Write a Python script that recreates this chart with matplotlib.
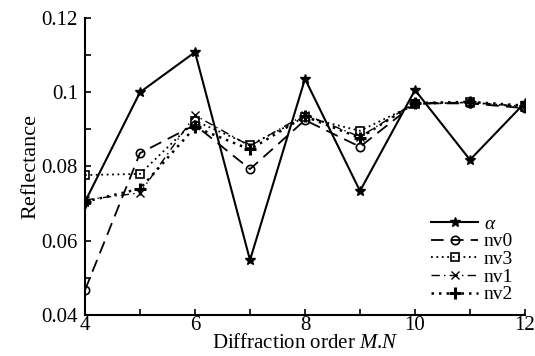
import numpy as np
import matplotlib.pyplot as plt
from matplotlib.ticker import MultipleLocator

plt.rcParams['font.family'] = ['Liberation Serif', 'DejaVu Serif']
plt.rcParams['mathtext.fontset'] = 'custom'
plt.rcParams['mathtext.it'] = 'Liberation Serif:italic'
plt.rcParams['mathtext.rm'] = 'Liberation Serif'

order = [4, 5, 6, 7, 8, 9, 10, 11, 12]
alpha = [0.0705, 0.1000, 0.1108, 0.0548, 0.1036, 0.0734, 0.1006, 0.0818, 0.0972]
nv0 = [0.0467, 0.0836, 0.0912, 0.0793, 0.0925, 0.0853, 0.0970, 0.0970, 0.0957]
nv3 = [0.0777, 0.0780, 0.0923, 0.0858, 0.0933, 0.0896, 0.0968, 0.0973, 0.0960]
nv1 = [0.0710, 0.0729, 0.0938, 0.0855, 0.0940, 0.0880, 0.0972, 0.0972, 0.0962]
nv2 = [0.0705, 0.0740, 0.0906, 0.0846, 0.0935, 0.0877, 0.0971, 0.0974, 0.0964]

fig = plt.figure(figsize=(5.35, 3.56), dpi=100)
ax = fig.add_axes([85/535, 1 - 315/356, 440/535, 297/356])

ax.plot(order, alpha, '-', color='black', lw=1.5, marker='*', ms=7, label=r'$\alpha$')
ax.plot(order, nv0, color='black', lw=1.3, ls=(0, (7, 4)), marker='o', ms=6,
        mfc='none', mew=1.2, label='nv0')
ax.plot(order, nv3, color='black', lw=1.3, ls=(0, (1, 2)), marker='s', ms=6,
        mfc='none', mew=1.2, label='nv3')
ax.plot(order, nv1, color='black', lw=1.0, ls=(0, (6, 3, 1, 3)), marker='x', ms=6,
        mew=1.0, label='nv1')
ax.plot(order, nv2, color='black', lw=1.8, ls=(0, (1, 2)), marker='+', ms=8,
        mew=2.2, label='nv2')

ax.set_xlim(4, 12)
ax.set_ylim(0.04, 0.12)
ax.xaxis.set_major_locator(MultipleLocator(2))
ax.xaxis.set_minor_locator(MultipleLocator(1))
ax.yaxis.set_major_locator(MultipleLocator(0.02))
ax.yaxis.set_minor_locator(MultipleLocator(0.01))
ax.set_yticks([0.04, 0.06, 0.08, 0.1, 0.12])
ax.set_yticklabels(['0.04', '0.06', '0.08', '0.1', '0.12'])

for s in ['top', 'right']:
    ax.spines[s].set_visible(False)
for s in ['left', 'bottom']:
    ax.spines[s].set_linewidth(1.5)
ax.tick_params(which='both', direction='in', width=1.2, labelsize=15)
ax.tick_params(axis='x', pad=1)
ax.tick_params(axis='y', pad=5)
ax.tick_params(which='major', length=4)
ax.tick_params(which='minor', length=4)

ax.set_xlabel(r'Diffraction order $M$.$N$', fontsize=15, labelpad=-1)
ax.set_ylabel('Reflectance', fontsize=16, labelpad=1)

leg = ax.legend(loc='lower right', frameon=False, fontsize=14, handlelength=2.4,
                handletextpad=0.3, labelspacing=0.0, borderaxespad=0.2)

fig.savefig('out.png', dpi=100)
